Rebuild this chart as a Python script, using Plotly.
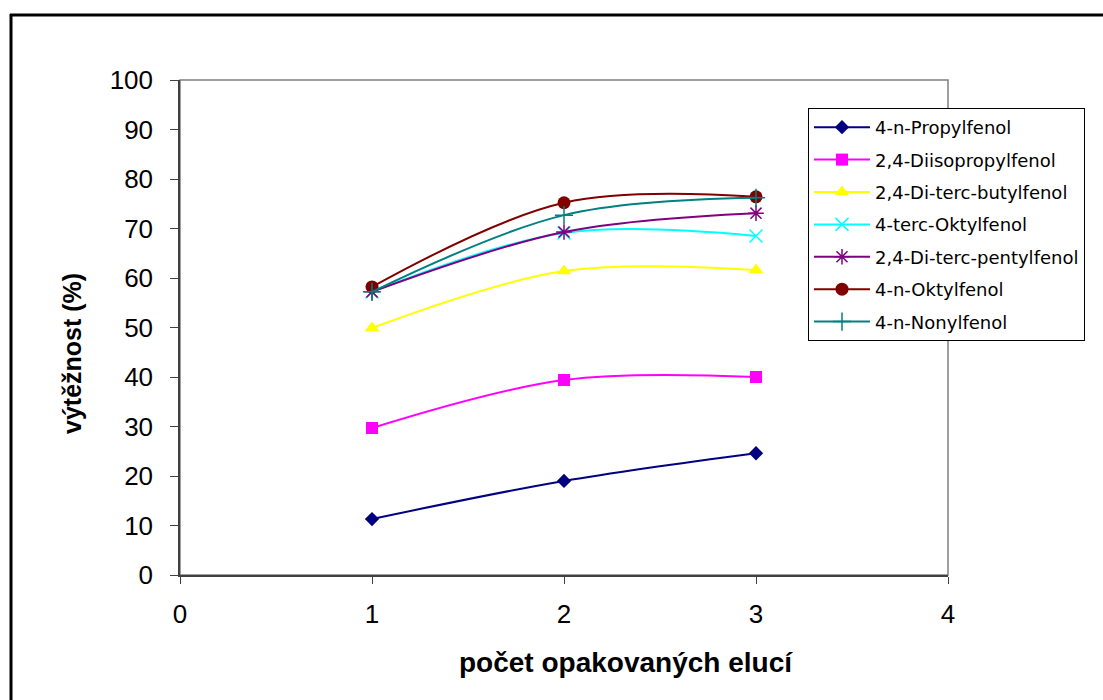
import plotly.graph_objects as go

x_vals = [1, 2, 3]
series_names = [
    "4-n-Propylfenol",
    "2,4-Diisopropylfenol",
    "2,4-Di-terc-butylfenol",
    "4-terc-Oktylfenol",
    "2,4-Di-terc-pentylfenol",
    "4-n-Oktylfenol",
    "4-n-Nonylfenol",
]
propyl = [11.3, 19.0, 24.6]
diisopropyl = [29.7, 39.4, 40.0]
diterc_butyl = [49.9, 61.4, 61.6]
terc_oktyl = [57.2, 69.1, 68.5]
diterc_pentyl = [57.2, 69.3, 73.1]
n_oktyl = [58.2, 75.2, 76.4]
n_nonyl = [57.2, 72.7, 76.2]
series_values = [propyl, diisopropyl, diterc_butyl, terc_oktyl, diterc_pentyl, n_oktyl, n_nonyl]

x_tick_vals = [0, 1, 2, 3, 4]
y_tick_vals = list(range(0, 101, 10))

colors = ["#000080", "#FF00FF", "#FFFF00", "#00FFFF", "#800080", "#800000", "#008080"]
symbols = ["diamond", "square", "triangle-up", "x-thin", "asterisk", "circle", "cross-thin"]
sizes = [11, 12, 13, 13, 13, 13, 13]

fig = go.Figure()
for i, (name, vals) in enumerate(zip(series_names, series_values)):
    thin = symbols[i] in ("x-thin", "asterisk", "cross-thin")
    fig.add_trace(go.Scatter(
        x=x_vals, y=vals, name=name, mode="lines+markers",
        line=dict(color=colors[i], width=2, shape="spline", smoothing=1.0),
        marker=dict(symbol=symbols[i], size=sizes[i], color=colors[i],
                    line=dict(color=colors[i], width=1.5 if thin else 0)),
        legendgroup=name,
    ))

L, R, T, B = 180, 155, 80, 125
W, H = 1103, 700
pw, ph = W - L - R, H - T - B

def px_x(p):
    return (p - L) / pw

def px_y(p):
    return (H - B - p) / ph

fig.update_layout(
    width=W, height=H,
    margin=dict(l=L, r=R, t=T, b=B),
    paper_bgcolor="white", plot_bgcolor="white",
    font=dict(family="Liberation Sans, Arial, sans-serif", color="black"),
    showlegend=True,
    legend=dict(
        x=px_x(808), y=px_y(108), xanchor="left", yanchor="top",
        bordercolor="black", borderwidth=1, bgcolor="white",
        font=dict(family="DejaVu Sans, sans-serif", size=18, color="black"),
        tracegroupgap=6, traceorder="grouped", itemwidth=56,
    ),
    xaxis=dict(
        range=[0, 4], tickvals=x_tick_vals, ticks="outside", ticklen=7,
        tickcolor="#404040", showgrid=False, zeroline=False,
        showline=True, linecolor="#404040", linewidth=2,
        tickfont=dict(size=26), ticklabelstandoff=8,
    ),
    yaxis=dict(
        range=[0, 100], tickvals=y_tick_vals, ticks="outside", ticklen=8,
        tickcolor="#404040", showgrid=False, zeroline=False,
        showline=True, linecolor="#404040", linewidth=1.5,
        tickfont=dict(size=26), ticklabelstandoff=12,
    ),
    shapes=[
        dict(type="rect", xref="paper", yref="paper", x0=0, x1=1, y0=0, y1=1,
             line=dict(color="#808080", width=1.5), layer="below"),
        dict(type="line", xref="paper", yref="paper",
             x0=px_x(11), x1=px_x(11), y0=px_y(14), y1=px_y(720),
             line=dict(color="black", width=3)),
        dict(type="line", xref="paper", yref="paper",
             x0=px_x(10), x1=px_x(1120), y0=px_y(15), y1=px_y(15),
             line=dict(color="black", width=3)),
    ],
    annotations=[
        dict(text="<b>výtěžnost (%)</b>", xref="paper", yref="paper",
             x=px_x(72), y=px_y(354), textangle=-90, showarrow=False,
             xanchor="center", yanchor="middle",
             font=dict(size=25, color="black")),
        dict(text="<b>počet opakovaných elucí</b>", xref="paper", yref="paper",
             x=px_x(626), y=px_y(662), showarrow=False,
             xanchor="center", yanchor="middle",
             font=dict(size=28, color="black")),
    ],
)

fig.write_html("out.html")
